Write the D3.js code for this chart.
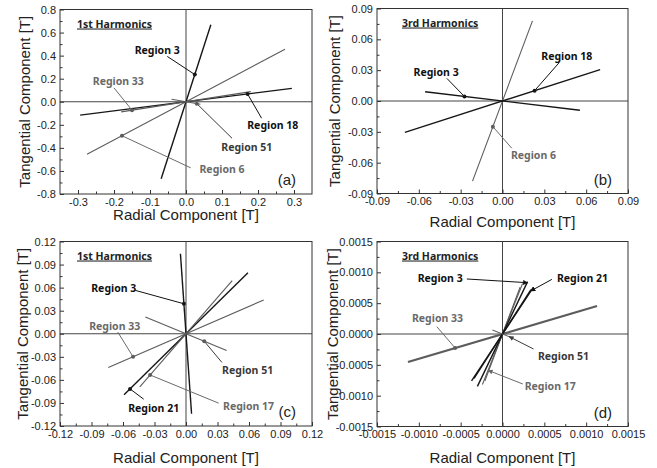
<!DOCTYPE html>
<html>
<head>
<meta charset="utf-8">
<script src="https://cdn.jsdelivr.net/npm/d3@7"></script>
<style>
body{margin:0;background:#fff;}
svg{display:block;font-family:"Liberation Sans",Arial,sans-serif;}
.tick text{font-size:11px;fill:#222;font-family:"Liberation Sans",Arial,sans-serif;}
.tick line{stroke:#333;}
.axis-title{font-size:15px;fill:#222;}
.tag{font-size:15px;fill:#222;}
.note{font-family:"Noto Sans",sans-serif;font-weight:bold;font-size:10.5px;}
.harm{font-family:"Noto Sans",sans-serif;font-weight:bold;font-size:10.5px;fill:#222;text-decoration:underline;}
</style>
</head>
<body>
<svg id="chart" width="657" height="468"></svg>
<script>
// tick values
const aXTicks = [-0.3, -0.2, -0.1, 0, 0.1, 0.2, 0.3];
const aYTicks = [-0.8, -0.6, -0.4, -0.2, 0, 0.2, 0.4, 0.6, 0.8];
const bXTicks = [-0.09, -0.06, -0.03, 0, 0.03, 0.06, 0.09];
const bYTicks = [-0.09, -0.06, -0.03, 0, 0.03, 0.06, 0.09];
const cXTicks = [-0.12, -0.09, -0.06, -0.03, 0, 0.03, 0.06, 0.09, 0.12];
const cYTicks = [-0.12, -0.09, -0.06, -0.03, 0, 0.03, 0.06, 0.09, 0.12];
const dXTicks = [-0.0015, -0.001, -0.0005, 0, 0.0005, 0.001, 0.0015];
const dYTicks = [-0.0015, -0.001, -0.0005, 0, 0.0005, 0.001, 0.0015];

// loci: each region traces a line through the origin, from -(x,y) to (x,y)
const aLineRegion = ['Region 3', 'Region 6', 'Region 18', 'Region 33', 'Region 51'];
const aLineX = [0.069, 0.275, 0.294, 0.18, 0.04];
const aLineY = [0.668, 0.455, 0.116, 0.088, -0.022];

const bLineRegion = ['Region 6', 'Region 18', 'Region 3'];
const bLineX = [0.0215, 0.07, -0.0555];
const bLineY = [0.078, 0.0305, 0.009];

const cLineRegion = ['Region 3', 'Region 21', 'Region 17', 'Region 33', 'Region 51'];
const cLineX = [-0.0053, 0.059, 0.044, 0.074, -0.0387];
const cLineY = [0.104, 0.0795, 0.069, 0.044, 0.0217];

const dLineRegion = ['Region 33', 'Region 17', 'Region 17', 'Region 21', 'Region 21', 'Region 3', 'Region 51'];
const dLineX = [0.00113, 0.00021, 0.00024, 0.00034, 0.00037, 0.0003, -0.00012];
const dLineY = [0.000453, 0.00076, 0.00082, 0.00072, 0.00076, 0.00085, 0.000065];

// marked points on the loci
const aNote = ['Region 3', 'Region 33', 'Region 18', 'Region 51', 'Region 6'];
const aTipX = [0.0245, -0.15, 0.171, 0.03, -0.178];
const aTipY = [0.236, -0.073, 0.0675, -0.0165, -0.2945];

const bNote = ['Region 3', 'Region 18', 'Region 6'];
const bTipX = [-0.0273, 0.023, -0.0069];
const bTipY = [0.0044, 0.01, -0.025];

const cNote = ['Region 3', 'Region 33', 'Region 51', 'Region 17', 'Region 21'];
const cTipX = [-0.002, -0.0504, 0.0174, -0.0342, -0.0533];
const cTipY = [0.039, -0.03, -0.0098, -0.0536, -0.0718];

const dNote = ['Region 3', 'Region 21', 'Region 33', 'Region 51', 'Region 17'];
const dTipX = [0.000299, 0.00034, -0.000566, 0.00008, -0.00017];
const dTipY = [0.000832, 0.0007, -0.000227, -0.000043, -0.00059];

// where the note texts sit, and where their leaders start (data units)
const aLabelAt = [[-0.08, 0.451], [-0.188, 0.175], [0.241, -0.2], [0.169, -0.393], [0.1, -0.582]];
const aTailAt = [[-0.052, 0.393], [-0.2, 0.12], [0.21, -0.143], [0.128, -0.317], [0.013, -0.573]];
const bLabelAt = [[-0.0476, 0.0276], [0.0461, 0.0438], [0.0222, -0.0525]];
const bTailAt = [[-0.0399, 0.022], [0.0406, 0.0373], [0.0067, -0.046]];
const cLabelAt = [[-0.0688, 0.0595], [-0.0679, 0.0096], [0.0587, -0.0478], [0.0596, -0.0938], [-0.0308, -0.0968]];
const cTailAt = [[-0.0482, 0.0564], [-0.065, 0.0022], [0.0342, -0.0373], [0.0311, -0.0903], [-0.0403, -0.0851]];
const dLabelAt = [[-0.000745, 0.000903], [0.000956, 0.000903], [-0.000777, 0.000254], [0.000729, -0.000368], [0.00057, -0.000854]];
const dTailAt = [[-0.000426, 0.000892], [0.00059, 0.000886], [-0.000785, 0.000119], [0.000371, -0.000243], [0.000243, -0.000811]];

const dark = ['Region 3', 'Region 18', 'Region 21'];
const lineColor = r => dark.includes(r) ? '#161616' : '#5c5c5c';
const textColor = r => dark.includes(r) ? '#111' : (r === 'Region 51' ? '#3a3a3a' : '#6a6a6a');

const fmt = d3.formatLocale({decimal: '.', thousands: ',', grouping: [3], currency: ['', ''], minus: '-'}).format;

const svg = d3.select('#chart');

svg.append('defs').append('marker')
    .attr('id', 'arrow')
    .attr('viewBox', '0 0 8 8')
    .attr('refX', 7).attr('refY', 4)
    .attr('markerWidth', 5).attr('markerHeight', 5)
    .attr('markerUnits', 'userSpaceOnUse')
    .attr('orient', 'auto')
    .append('path')
    .attr('d', 'M0,0 L8,4 L0,8 z')
    .attr('fill', 'context-stroke');

function midpoints(t){
    return d3.pairs(t).map(([p, q]) => (p + q) / 2);
}

function drawPanel(p){
    const {left, top, width, height} = p.box;
    const g = svg.append('g').attr('transform', `translate(${left},${top})`);
    const x = d3.scaleLinear().domain(p.xDomain).range([0, width]);
    const y = d3.scaleLinear().domain(p.yDomain).range([height, 0]);

    // zero lines
    g.append('line')
        .attr('x1', x(0)).attr('x2', x(0)).attr('y1', 0).attr('y2', height)
        .attr('stroke', '#444').attr('stroke-width', 1);
    g.append('line')
        .attr('x1', 0).attr('x2', width).attr('y1', y(0)).attr('y2', y(0))
        .attr('stroke', '#444').attr('stroke-width', 1);

    // loci
    g.append('g').selectAll('line')
        .data(d3.range(p.lineX.length))
        .join('line')
        .attr('x1', i => x(-p.lineX[i]))
        .attr('y1', i => y(-p.lineY[i]))
        .attr('x2', i => x(p.lineX[i]))
        .attr('y2', i => y(p.lineY[i]))
        .attr('stroke', i => lineColor(p.lineRegion[i]))
        .attr('stroke-width', i => (p.heavy || []).includes(p.lineRegion[i]) ? 2.2 :
            (dark.includes(p.lineRegion[i]) ? 1.4 : 1.1));

    // notes
    const notes = g.append('g').selectAll('g')
        .data(d3.range(p.note.length))
        .join('g');

    notes.append('line')
        .attr('x1', i => x(p.tailAt[i][0]))
        .attr('y1', i => y(p.tailAt[i][1]))
        .attr('x2', i => x(p.tipX[i]))
        .attr('y2', i => y(p.tipY[i]))
        .attr('stroke', i => textColor(p.note[i]))
        .attr('stroke-width', 1)
        .attr('marker-end', i => (p.arrows || []).includes(p.note[i]) ? 'url(#arrow)' : null);

    notes.filter(i => !(p.arrows || []).includes(p.note[i]))
        .append('circle')
        .attr('cx', i => x(p.tipX[i]))
        .attr('cy', i => y(p.tipY[i]))
        .attr('r', 2)
        .attr('fill', i => lineColor(p.note[i]));

    notes.append('text')
        .attr('class', 'note')
        .attr('x', i => x(p.labelAt[i][0]))
        .attr('y', i => y(p.labelAt[i][1]))
        .attr('text-anchor', 'middle')
        .attr('dy', '0.36em')
        .attr('fill', i => textColor(p.note[i]))
        .text(i => p.note[i]);

    // frame
    g.append('rect')
        .attr('width', width).attr('height', height)
        .attr('fill', 'none').attr('stroke', '#333').attr('stroke-width', 1);

    // axes, ticks point inward
    const xa = g.append('g').attr('transform', `translate(0,${height})`)
        .call(d3.axisBottom(x).tickValues(p.xTicks).tickFormat(fmt(p.xFmt)).tickSizeInner(-4).tickSizeOuter(0).tickPadding(4));
    const xm = g.append('g').attr('transform', `translate(0,${height})`)
        .call(d3.axisBottom(x).tickValues(midpoints(p.xTicks)).tickFormat('').tickSizeInner(-2.5).tickSizeOuter(0));
    const ya = g.append('g')
        .call(d3.axisLeft(y).tickValues(p.yTicks).tickFormat(fmt(p.yFmt)).tickSizeInner(-4).tickSizeOuter(0).tickPadding(4));
    const ym = g.append('g')
        .call(d3.axisLeft(y).tickValues(midpoints(p.yTicks)).tickFormat('').tickSizeInner(-2.5).tickSizeOuter(0));
    [xa, xm, ya, ym].forEach(a => a.select('.domain').remove());

    // harmonic title
    g.append('text')
        .attr('class', 'harm')
        .attr('x', p.harmX).attr('y', 18)
        .text(p.harm);

    // panel tag
    g.append('text')
        .attr('class', 'tag')
        .attr('x', width - 16).attr('y', height - 9)
        .attr('text-anchor', 'end')
        .text(p.tag);

    // axis titles
    svg.append('text')
        .attr('class', 'axis-title')
        .attr('x', left + width / 2)
        .attr('y', top + height + p.xTitleGap)
        .attr('text-anchor', 'middle')
        .attr('dy', '0.36em')
        .text('Radial Component [T]');
    svg.append('text')
        .attr('class', 'axis-title')
        .attr('transform', `translate(${p.yTitleX},${top + height / 2}) rotate(-90)`)
        .attr('text-anchor', 'middle')
        .attr('dy', '0.36em')
        .text('Tangential Component [T]');
}

const panels = [
    {box: {left: 60, top: 9.5, width: 252, height: 184.5}, xDomain: [-0.35, 0.35], yDomain: [-0.8, 0.8],
     xTicks: aXTicks, yTicks: aYTicks, xFmt: '.1f', yFmt: '.1f',
     lineRegion: aLineRegion, lineX: aLineX, lineY: aLineY,
     note: aNote, tipX: aTipX, tipY: aTipY, labelAt: aLabelAt, tailAt: aTailAt,
     harm: '1st Harmonics', harmX: 17, tag: '(a)', xTitleGap: 21, yTitleX: 25},
    {box: {left: 377, top: 8.5, width: 251, height: 185}, xDomain: [-0.09, 0.09], yDomain: [-0.09, 0.09],
     xTicks: bXTicks, yTicks: bYTicks, xFmt: '.2f', yFmt: '.2f',
     lineRegion: bLineRegion, lineX: bLineX, lineY: bLineY,
     note: bNote, tipX: bTipX, tipY: bTipY, labelAt: bLabelAt, tailAt: bTailAt,
     harm: '3rd Harmonics', harmX: 25, tag: '(b)', xTitleGap: 28, yTitleX: 335},
    {box: {left: 60, top: 241.5, width: 252, height: 184.5}, xDomain: [-0.12, 0.12], yDomain: [-0.12, 0.12],
     xTicks: cXTicks, yTicks: cYTicks, xFmt: '.2f', yFmt: '.2f',
     lineRegion: cLineRegion, lineX: cLineX, lineY: cLineY,
     note: cNote, tipX: cTipX, tipY: cTipY, labelAt: cLabelAt, tailAt: cTailAt,
     harm: '1st Harmonics', harmX: 17, tag: '(c)', xTitleGap: 32, yTitleX: 23},
    {box: {left: 377, top: 241.5, width: 251, height: 185}, xDomain: [-0.0015, 0.0015], yDomain: [-0.0015, 0.0015],
     xTicks: dXTicks, yTicks: dYTicks, xFmt: '.4f', yFmt: '.4f',
     lineRegion: dLineRegion, lineX: dLineX, lineY: dLineY,
     note: dNote, tipX: dTipX, tipY: dTipY, labelAt: dLabelAt, tailAt: dTailAt,
     heavy: ['Region 33'], arrows: ['Region 3', 'Region 21', 'Region 51', 'Region 17'],
     harm: '3rd Harmonics', harmX: 25, tag: '(d)', xTitleGap: 31, yTitleX: 333}
];

panels.forEach(drawPanel);
</script>
</body>
</html>
